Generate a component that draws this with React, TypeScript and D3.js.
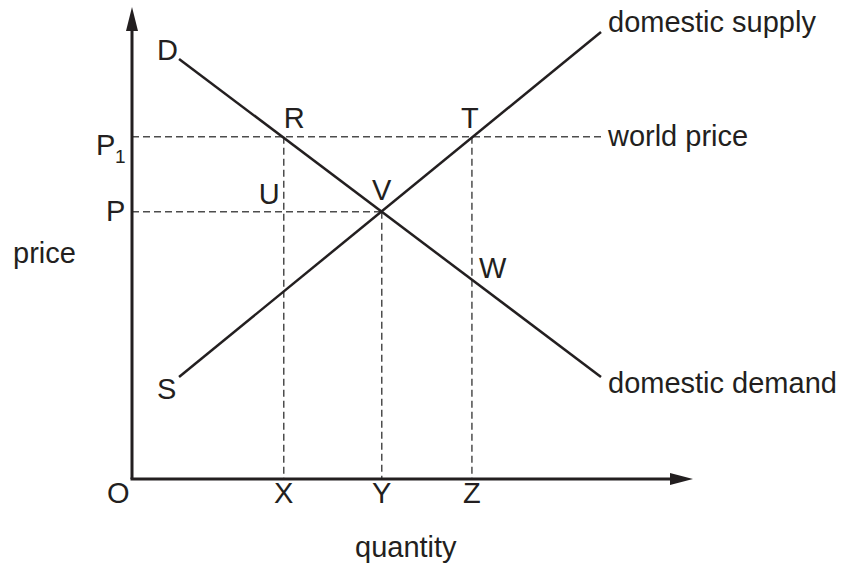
import * as d3 from "d3";

// axis extent (economic units, arbitrary)
const axisMax = { q: 10, p: 10 };

// quantities read at the dashed verticals
const quantityMarks = [
  { label: "X", q: 2.71 },
  { label: "Y", q: 4.46 },
  { label: "Z", q: 6.07 },
];

// prices read at the dashed horizontals
const priceMarks = { world: 7.25, domestic: 5.66 };
const worldPriceEnd = 8.41;

// curve end points [quantity, price]
const demand: [number, number][] = [
  [0.84, 8.9],
  [8.375, 2.16],
];
const supply: [number, number][] = [
  [0.84, 2.16],
  [8.375, 9.47],
];

const W = 842;
const H = 566;
const INK = "#231f20";
const DASH = "#4d4d4d";
const FONT = "'Liberation Sans', Arial, Helvetica, sans-serif";

export default function App() {
  const x = d3.scaleLinear().domain([0, axisMax.q]).range([132, 692]);
  const y = d3.scaleLinear().domain([0, axisMax.p]).range([479, 7]);
  const line = d3
    .line<[number, number]>()
    .x((d) => x(d[0]))
    .y((d) => y(d[1]));

  const x0 = x(0);
  const y0 = y(0);
  const xEnd = x(axisMax.q);
  const yEnd = y(axisMax.p);
  const [X, Y, Z] = quantityMarks;
  const txt = { fontFamily: FONT, fontSize: 29, fill: INK } as const;

  return (
    <svg width={W} height={H} style={{ position: "absolute", left: 0, top: 0, background: "#fff" }}>
      {/* dashed guides */}
      <g stroke={DASH} strokeWidth={1.5} strokeDasharray="7,4" fill="none">
        <line x1={x0} y1={y(priceMarks.world)} x2={x(worldPriceEnd)} y2={y(priceMarks.world)} />
        <line x1={x0} y1={y(priceMarks.domestic)} x2={x(Y.q)} y2={y(priceMarks.domestic)} />
        <line x1={x(X.q)} y1={y(priceMarks.world)} x2={x(X.q)} y2={y0} />
        <line x1={x(Y.q)} y1={y(priceMarks.domestic)} x2={x(Y.q)} y2={y0} />
        <line x1={x(Z.q)} y1={y(priceMarks.world)} x2={x(Z.q)} y2={y0} />
      </g>

      {/* demand and supply */}
      <path d={line(demand) ?? ""} stroke={INK} strokeWidth={2.5} fill="none" />
      <path d={line(supply) ?? ""} stroke={INK} strokeWidth={2.5} fill="none" />

      {/* axes */}
      <g stroke={INK} strokeWidth={3} fill="none">
        <line x1={x0} y1={y0} x2={x0} y2={yEnd + 20} />
        <line x1={x0 - 1.5} y1={y0} x2={xEnd - 20} y2={y0} />
      </g>
      <path d={`M${x0},${yEnd} L${x0 - 6},${yEnd + 24} L${x0 + 6},${yEnd + 24} Z`} fill={INK} />
      <path d={`M${xEnd + 1},${y0} L${xEnd - 22},${y0 - 6} L${xEnd - 22},${y0 + 6} Z`} fill={INK} />

      {/* curve and point labels */}
      <g style={txt}>
        <text x={x(supply[1][0]) + 7} y={y(supply[1][1])}>domestic supply</text>
        <text x={x(worldPriceEnd) + 5} y={y(priceMarks.world) + 9}>world price</text>
        <text x={x(demand[1][0]) + 7} y={y(demand[1][1]) + 16}>domestic demand</text>
        <text x={x(demand[0][0]) - 22} y={y(demand[0][1]) + 1}>D</text>
        <text x={x(supply[0][0]) - 22} y={y(supply[0][1]) + 22}>S</text>
        <text x={x(X.q)} y={y(priceMarks.world) - 9}>R</text>
        <text x={x(Z.q) - 11} y={y(priceMarks.world) - 9}>T</text>
        <text x={x(X.q) - 25} y={y(priceMarks.domestic) - 8}>U</text>
        <text x={x(Y.q)} y={y(priceMarks.domestic) - 12} textAnchor="middle">V</text>
        <text x={x(Z.q) + 7} y={y(priceMarks.domestic) + 66}>W</text>

        <text x={x0 - 36} y={y(priceMarks.world) + 18}>P</text>
        <text x={x0 - 17} y={y(priceMarks.world) + 26} fontSize={19}>1</text>
        <text x={x0 - 26} y={y(priceMarks.domestic) + 9}>P</text>
        <text x={13} y={263}>price</text>

        <text x={x0 - 25} y={y0 + 24}>O</text>
        {quantityMarks.map((m) => (
          <text key={m.label} x={x(m.q)} y={y0 + 24} textAnchor="middle">
            {m.label}
          </text>
        ))}
        <text x={355} y={557}>quantity</text>
      </g>
    </svg>
  );
}
